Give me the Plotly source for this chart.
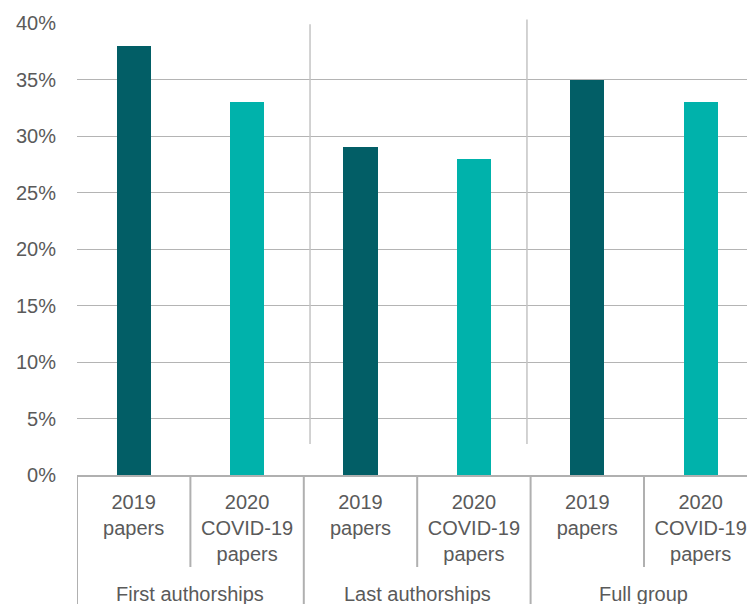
import plotly.graph_objects as go

groups = ["First authorships", "Last authorships", "Full group"]
sub_labels = ["2019<br>papers", "2020<br>COVID-19<br>papers"]
values_2019 = [38, 29, 35]
values_2020 = [33, 28, 33]
y_ticks = [0, 5, 10, 15, 20, 25, 30, 35, 40]

DARK = "#025E66"
LIGHT = "#00B2AB"
TEXT = "#5a5a5a"
GRID = "#b4b4b4"
FONT = "Liberation Sans"

x_2019 = [2 * i for i in range(len(groups))]
x_2020 = [2 * i + 1 for i in range(len(groups))]

fig = go.Figure()
fig.add_trace(go.Bar(x=x_2019, y=values_2019, marker_color=DARK, width=0.3,
                     marker_line_width=0, showlegend=False))
fig.add_trace(go.Bar(x=x_2020, y=values_2020, marker_color=LIGHT, width=0.3,
                     marker_line_width=0, showlegend=False))

tickvals = list(range(2 * len(groups)))
ticktext = [sub_labels[i % 2] for i in tickvals]

# separators inside the plot
for xs, top in [(1.555, 0.997), (3.468, 1.008)]:
    fig.add_shape(type="line", xref="x", yref="paper", x0=xs, x1=xs,
                  y0=2.75 / 40, y1=top, line=dict(color="#c4c4c4", width=1.5))

# separators below the axis
ppx = 452.0
for b in [0.5, 2.5, 4.5]:
    fig.add_shape(type="line", xref="x", yref="paper", x0=b, x1=b,
                  y0=0, y1=-(567 - 475) / ppx, line=dict(color="#b0b0b0", width=2))
for b in [-0.5, 1.5, 3.5]:
    fig.add_shape(type="line", xref="x", yref="paper", x0=b, x1=b,
                  y0=0, y1=-0.35, line=dict(color="#b0b0b0", width=2))

for i, g in enumerate(groups):
    fig.add_annotation(x=2 * i + 0.5, xref="x", y=-(594 - 475) / ppx, yref="paper",
                       text=g, showarrow=False, yanchor="middle",
                       font=dict(family=FONT, size=20, color=TEXT))

fig.update_layout(
    width=747, height=596,
    margin=dict(l=69, r=0, t=15, b=129),
    paper_bgcolor="white", plot_bgcolor="white",
    bargap=0,
    font=dict(family=FONT, size=20, color=TEXT),
    xaxis=dict(range=[-0.5, 5.479], tickmode="array", tickvals=tickvals,
               ticktext=ticktext, showgrid=False, zeroline=False,
               showline=True, linecolor="#b0b0b0", linewidth=2,
               ticks="", ticklabelstandoff=8,
               tickfont=dict(family=FONT, size=20, color=TEXT)),
    yaxis=dict(range=[0, 40], tickmode="array", tickvals=y_ticks,
               ticktext=[f"{v}%" for v in y_ticks], showgrid=True,
               gridcolor=GRID, gridwidth=1, zeroline=False, showline=False,
               ticks="", ticklabelstandoff=20,
               tickfont=dict(family=FONT, size=20, color=TEXT)),
)

fig.write_html("out.html")
